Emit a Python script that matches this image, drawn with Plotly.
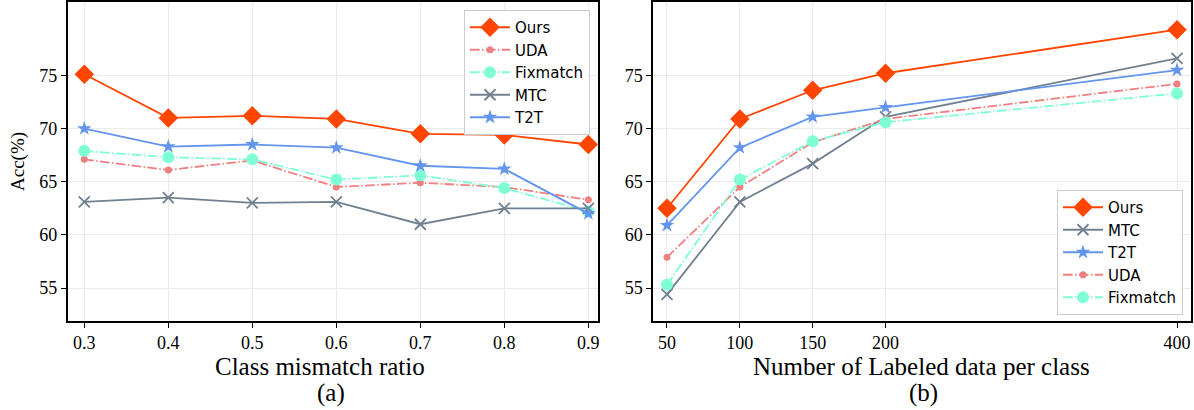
import plotly.graph_objects as go

# ---- data ----
ratio = [0.3, 0.4, 0.5, 0.6, 0.7, 0.8, 0.9]
a_ours = [75.1, 71.0, 71.2, 70.9, 69.5, 69.4, 68.5]
a_uda = [67.1, 66.1, 67.0, 64.5, 64.9, 64.5, 63.3]
a_fix = [67.9, 67.3, 67.1, 65.2, 65.6, 64.4, 62.2]
a_mtc = [63.1, 63.5, 63.0, 63.1, 61.0, 62.5, 62.5]
a_t2t = [70.0, 68.3, 68.5, 68.2, 66.5, 66.2, 62.0]

labeled = [50, 100, 150, 200, 400]
b_ours = [62.5, 70.9, 73.6, 75.2, 79.3]
b_mtc = [54.4, 63.1, 66.7, 71.1, 76.6]
b_t2t = [60.9, 68.2, 71.1, 72.0, 75.5]
b_uda = [57.9, 64.5, 68.7, 70.9, 74.2]
b_fix = [55.3, 65.2, 68.8, 70.6, 73.3]

y_ticks = [55, 60, 65, 70, 75]

# ---- styles ----
DD = "9.6px,2.4px,1.5px,2.4px"
styles = {
    "Ours": dict(color="#FF4500", dash="solid", symbol="diamond", size=15),
    "UDA": dict(color="#F08080", dash=DD, symbol="circle", size=7),
    "Fixmatch": dict(color="#7FFFD4", dash=DD, symbol="circle", size=12),
    "MTC": dict(color="#708090", dash="solid", symbol="x-thin", size=11),
    "T2T": dict(color="#6495ED", dash="solid", symbol="star", size=11),
}

def tr(name, x, y, xa, ya, legend):
    s = styles[name]
    marker = dict(symbol=s["symbol"], size=s["size"], color=s["color"])
    if s["symbol"] == "x-thin":
        marker["line"] = dict(color=s["color"], width=1.8)
    else:
        marker["line"] = dict(width=0)
    return go.Scatter(x=x, y=y, name=name, mode="lines+markers",
                      line=dict(color=s["color"], width=1.8, dash=s["dash"]),
                      marker=marker, xaxis=xa, yaxis=ya, legend=legend)

fig = go.Figure()
left = [("Ours", a_ours), ("UDA", a_uda), ("Fixmatch", a_fix), ("MTC", a_mtc), ("T2T", a_t2t)]
right = [("Ours", b_ours), ("MTC", b_mtc), ("T2T", b_t2t), ("UDA", b_uda), ("Fixmatch", b_fix)]
for n, v in left:
    fig.add_trace(tr(n, ratio, v, "x", "y", "legend"))
for n, v in right:
    fig.add_trace(tr(n, labeled, v, "x2", "y2", "legend2"))

serif = "Liberation Serif, Times New Roman, serif"
axis_common = dict(showline=True, mirror=True, linecolor="black", linewidth=1.5,
                   ticks="outside", ticklen=5, tickwidth=1.2, tickcolor="black",
                   showgrid=True, gridcolor="#ebebeb", gridwidth=1, zeroline=False,
                   automargin=False, ticklabeloverflow="allow",
                   tickfont=dict(family=serif, size=18, color="black"))

ydom = [1 - 321 / 410, 1 - 2 / 410]
legend_common = dict(bgcolor="white", bordercolor="#cccccc", borderwidth=1,
                     font=dict(family="DejaVu Sans", size=15, color="black"),
                     tracegroupgap=0, itemwidth=40)
fig.update_layout(
    width=1194, height=410, margin=dict(l=0, r=0, t=0, b=0, autoexpand=False),
    plot_bgcolor="white", paper_bgcolor="white",
    xaxis=dict(domain=[67.5 / 1194, 598 / 1194], range=[0.28, 0.9115], anchor="y",
               tickvals=ratio, ticktext=[f"{r:.1f}" for r in ratio], **axis_common),
    yaxis=dict(domain=ydom, range=[51.9, 81.9], tickvals=y_ticks, anchor="x", **axis_common),
    xaxis2=dict(domain=[653 / 1194, 1191 / 1194], range=[40.4, 409.6], anchor="y2",
                tickvals=labeled, **axis_common),
    yaxis2=dict(domain=ydom, range=[51.9, 81.9], tickvals=y_ticks, anchor="x2", **axis_common),
    legend=dict(x=590 / 1194, y=1 - 10 / 410, xanchor="right", yanchor="top", **legend_common),
    legend2=dict(x=1183 / 1194, y=1 - 315 / 410, xanchor="right", yanchor="bottom", **legend_common),
    showlegend=True,
)

ann_font = dict(family=serif, size=25, color="black")
for xc, t1, xs, t2 in [(320, "Class mismatch ratio", 331, "(a)"),
                       (921, "Number of Labeled data per class", 923, "(b)")]:
    fig.add_annotation(x=xc / 1194, y=1 - 366 / 410, xref="paper", yref="paper",
                       text=t1, showarrow=False, font=ann_font,
                       xanchor="center", yanchor="middle")
    fig.add_annotation(x=xs / 1194, y=1 - 393 / 410, xref="paper", yref="paper",
                       text=t2, showarrow=False, font=ann_font,
                       xanchor="center", yanchor="middle")
fig.add_annotation(x=18 / 1194, y=1 - 162 / 410, xref="paper", yref="paper",
                   text="Acc(%)", textangle=-90, showarrow=False,
                   font=dict(family=serif, size=19, color="black"),
                   xanchor="center", yanchor="middle")

fig.write_html("out.html", config={"displayModeBar": False},
               post_script="document.body.style.margin='0';document.body.style.overflow='hidden';")
